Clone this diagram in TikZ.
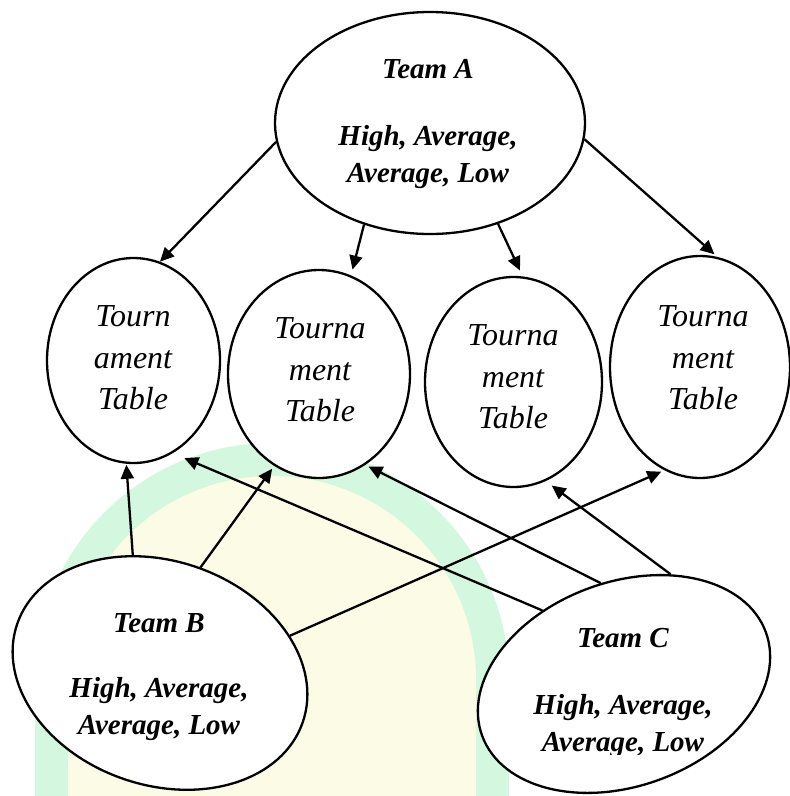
\documentclass[tikz,border=0pt]{standalone}
\usepackage{fontspec}
\setmainfont{Liberation Serif}
\usetikzlibrary{arrows.meta,shapes.geometric}
\definecolor{wmgreen}{RGB}{212,247,224}
\definecolor{wmyellow}{RGB}{252,252,230}
\tikzset{
 oval/.style={ellipse, draw=black, line width=2.3pt, fill=white, inner sep=0pt},
 teamtxt/.style={align=center, font=\fontsize{29}{37}\selectfont\bfseries\itshape, inner sep=0pt},
 tabtxt/.style={align=center, font=\fontsize{32}{41.5}\selectfont\itshape, inner sep=0pt},
 conn/.style={line width=2.3pt, -{Triangle[length=14pt,width=13pt]}},
}
\begin{document}
\begin{tikzpicture}[x=1pt,y=-1pt]
\useasboundingbox (0,0) rectangle (790,796);
% faint watermark
\fill[wmgreen] (35,796) -- (35,680) arc[start angle=180, end angle=360, radius=237] -- (509,796) -- cycle;
\fill[wmyellow] (68,796) -- (68,680) arc[start angle=180, end angle=360, radius=204] -- (476,796) -- cycle;

% Team A
\node[oval, minimum width=310pt, minimum height=222pt] (A) at (430,123) {};
\node[teamtxt] (Atxt) at (428,124) {Team A\\[30pt]High, Average,\\Average, Low};

% Tournament tables
\node[oval, minimum width=173pt, minimum height=205pt] (T1) at (133.5,360.5) {};
\node[tabtxt] (T1txt) at (133,358) {Tourn\\ament\\Table};
\node[oval, minimum width=182pt, minimum height=208pt] (T2) at (319,374) {};
\node[tabtxt] (T2txt) at (320,370) {Tourna\\ment\\Table};
\node[oval, minimum width=177pt, minimum height=210pt] (T3) at (513.5,382) {};
\node[tabtxt] (T3txt) at (513,377) {Tourna\\ment\\Table};
\node[oval, minimum width=180pt, minimum height=222pt] (T4) at (700,367) {};
\node[tabtxt] (T4txt) at (703,358) {Tourna\\ment\\Table};

% Team B and C
\node[oval, minimum width=302pt, minimum height=224pt, rotate=-19] (B) at (160,673) {};
\node[teamtxt] (Btxt) at (159,677) {Team B\\[28pt]High, Average,\\Average, Low};
\node[oval, minimum width=302pt, minimum height=204pt, rotate=20] (C) at (624,684) {};
\begin{scope}
\clip (0,0) rectangle (790,754);
\node[teamtxt] (Ctxt) at (623,693) {Team C\\[30pt]High, Average,\\Average, Low};
\end{scope}

% connectors
\draw[conn] (A.187) -- (T1.75);
\draw[conn, shorten >=6pt] (A.237) -- (T2.72);
\draw[conn, shorten >=6.5pt] (A.304) -- (T3.85);
\draw[conn, shorten >=4pt] (A.354) -- (T4.81);
\draw[conn, shorten >=1pt] (B.122) -- (T1.266);
\draw[conn, shorten >=3.5pt] (B.88) -- (T2.244);
\draw[conn, shorten >=3.5pt] (B.35) -- (T4.251);
\draw[conn, shorten >=12.5pt] (C.118) -- (T1.293);
\draw[conn, shorten >=3.5pt] (C.83) -- (T2.297);
\draw[conn, shorten >=7.5pt] (C.47) -- (T3.288);
\end{tikzpicture}
\end{document}
